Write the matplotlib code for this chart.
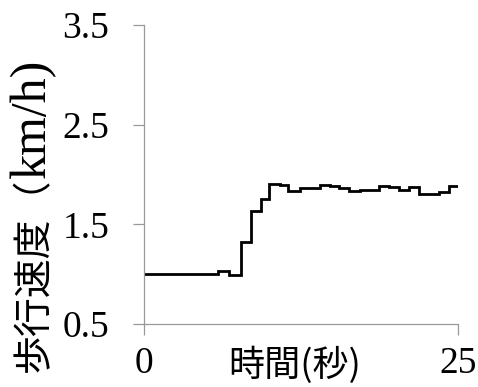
import numpy as np
import matplotlib
matplotlib.use("Agg")
import matplotlib.pyplot as plt

# walking speed, piecewise constant between sample edges (seconds)
edges = [0, 5.9, 6.8, 7.7, 8.5, 9.3, 10.0, 10.8, 11.5, 12.4, 14.0, 14.8,
         15.5, 16.3, 17.2, 18.7, 19.5, 20.3, 21.1, 21.9, 23.5, 24.3, 25.0]
speed = [1.00, 1.03, 0.99, 1.32, 1.63, 1.75, 1.90, 1.89, 1.83, 1.86, 1.89,
         1.88, 1.86, 1.83, 1.845, 1.88, 1.87, 1.84, 1.87, 1.80, 1.82, 1.885]

xticks = [0, 25]
yticks = [0.5, 1.5, 2.5, 3.5]
xlabel = "時間(秒)"
ylabel_jp = "歩行速度（"
ylabel_unit = "km/h)"

serif = "Liberation Serif"
gothic = ["Noto Sans CJK JP", "DejaVu Sans"]

W, H = 478, 387
fig = plt.figure(figsize=(W / 100, H / 100), dpi=100)
ax = fig.add_axes([0.301, 0.163, 0.657, 0.772])

ax.stairs(speed, edges, baseline=None, color="black", lw=2.0)

ax.set_xlim(0, 25)
ax.set_ylim(0.5, 3.5)
ax.set_xticks(xticks)
ax.set_yticks(yticks)
ax.set_xticklabels([str(v) for v in xticks], family=serif, fontsize=27)
ax.set_yticklabels([f"{v:.1f}" for v in yticks], family=serif, fontsize=27)

for side in ("top", "right"):
    ax.spines[side].set_visible(False)
for side in ("left", "bottom"):
    ax.spines[side].set_color("#999999")
    ax.spines[side].set_linewidth(0.9)
ax.tick_params(axis="both", direction="out", length=8, width=0.9,
               color="#999999", labelcolor="black")
ax.tick_params(axis="y", pad=17)
ax.tick_params(axis="x", pad=8)

fig.text(295 / W, 0.057, xlabel, family=gothic, fontsize=26,
         ha="center", va="center")

# y label in two runs sharing one baseline: gothic characters from the
# bottom, then the serif unit continuing upwards
base_x = 45 / W
t_jp = fig.text(base_x, (H - 372) / H, ylabel_jp, family=gothic, fontsize=28,
                rotation=90, rotation_mode="anchor", ha="left", va="baseline")
fig.canvas.draw()
top_jp = t_jp.get_window_extent().y1 / H
fig.text(base_x, top_jp, ylabel_unit, family=serif, fontsize=36,
         rotation=90, rotation_mode="anchor", ha="left", va="baseline")

fig.savefig("out.png", dpi=100)
